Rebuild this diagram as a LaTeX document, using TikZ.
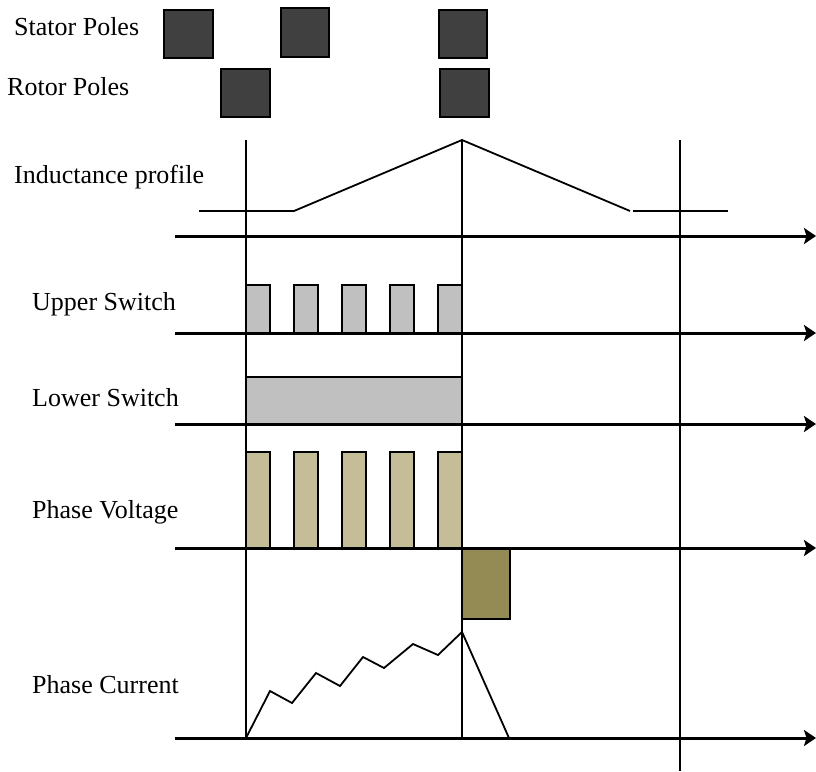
\documentclass[tikz,border=0pt]{standalone}
\usepackage{fontspec}
\setmainfont{Liberation Serif}
\usepackage{tikz}
\usetikzlibrary{arrows.meta}
\definecolor{poledark}{HTML}{404040}
\definecolor{switchgray}{HTML}{C0C0C0}
\definecolor{voltpos}{HTML}{C4BD97}
\definecolor{voltneg}{HTML}{948A54}
\tikzset{
  label/.style={font=\fontsize{26}{30}\selectfont, inner sep=0pt, anchor=base west},
  pole/.style={draw=black, line width=1.5pt, fill=poledark},
  timeaxis/.style={line width=3pt, -{Stealth[length=12pt, width=16pt, inset=2.5pt]}},
  marker/.style={line width=1.2pt},
  wave/.style={line width=1.8pt, line join=miter},
  pulse/.style={draw=black, line width=1.5pt}
}

\begin{document}
\begin{tikzpicture}[x=1pt, y=-1pt]
\useasboundingbox (0,0) rectangle (816,771);
\node[label] (stator) at (14,35) {Stator Poles};
\node[label] (rotor) at (7,95) {Rotor Poles};
\node[label] (induct) at (14,183) {Inductance profile};
\node[label] (upper) at (32,310) {Upper Switch};
\node[label] (lower) at (32,406) {Lower Switch};
\node[label] (volt) at (32,518) {Phase Voltage};
\node[label] (curr) at (32,693) {Phase Current};
\draw[pole] (164,10) rectangle (213,58);
\draw[pole] (281,8) rectangle (329,57);
\draw[pole] (439,10) rectangle (487,58);
\draw[pole] (221,69) rectangle (270,117);
\draw[pole] (440,69) rectangle (489,117);
\foreach \x in {246,294,342,390,438}{
  \draw[pulse, fill=switchgray] (\x,333) rectangle ++(24,-48);
  \draw[pulse, fill=voltpos] (\x,548) rectangle ++(24,-96);
}
\draw[pulse, fill=switchgray] (246,424) rectangle (462,377);
\draw[pulse, fill=voltneg] (462,548) rectangle (510,619);
\draw[wave] (199,211) -- (294,211) -- (462,140) -- (630,211);
\draw[wave] (633,211) -- (728,211);
\draw[wave] (246,738) -- (270,691) -- (292,703) -- (316,673) -- (340,686) -- (363,657)
  -- (384,668) -- (413,644) -- (438,655) -- (462,632) -- (509,738);
\draw[marker] (246,140) -- (246,738);
\draw[marker] (462,140) -- (462,738);
\draw[marker] (680,140) -- (680,771);
\draw[timeaxis] (175,236) -- (816,236);
\draw[timeaxis] (175,333) -- (816,333);
\draw[timeaxis] (175,424) -- (816,424);
\draw[timeaxis] (175,548) -- (816,548);
\draw[timeaxis] (175,738) -- (816,738);
\end{tikzpicture}
\end{document}
